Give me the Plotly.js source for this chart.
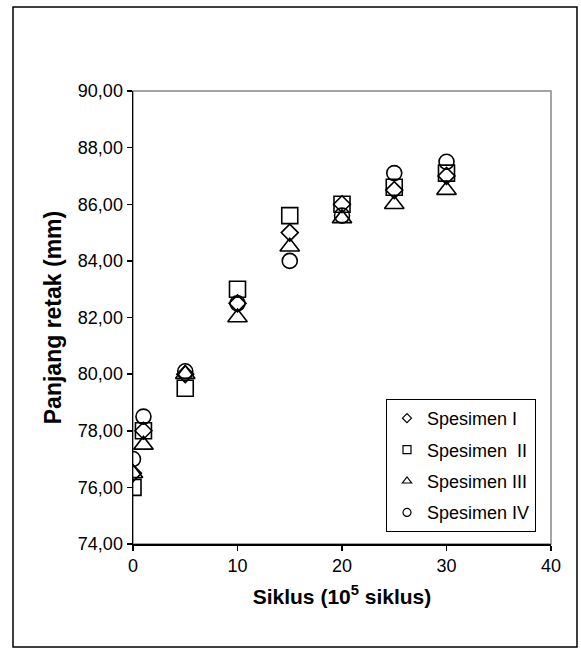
<!DOCTYPE html>
<html>
<head>
<meta charset="utf-8">
<script src="https://cdn.plot.ly/plotly-3.0.1.min.js"></script>
<style>
html,body{margin:0;padding:0;background:#fff;}
#chart{width:581px;height:659px;}
</style>
</head>
<body>
<div id="chart"></div>
<script>
// Data
const cycles = [0, 1, 5, 10, 15, 20, 25, 30];
const spesimen1 = [76.5, 78.0, 80.0, 82.5, 85.0, 86.0, 86.5, 87.0];
const spesimen2 = [76.0, 78.0, 79.5, 83.0, 85.6, 86.0, 86.6, 87.1];
const spesimen3 = [76.5, 77.5, 80.0, 82.0, 84.5, 85.5, 86.0, 86.5];
const spesimen4 = [77.0, 78.5, 80.1, 82.5, 84.0, 85.6, 87.1, 87.5];
const seriesNames = ['Spesimen I', 'Spesimen\u00a0 II', 'Spesimen III', 'Spesimen IV'];
const xTickVals = [0, 10, 20, 30, 40];
const yTickVals = [74, 76, 78, 80, 82, 84, 86, 88, 90];

const FONT = 'Arial, "Liberation Sans", sans-serif';
const symbols = ['diamond-open', 'square-open', 'triangle-up-open', 'circle-open'];
const sizes = [13, 16, 17, 15];
const allY = [spesimen1, spesimen2, spesimen3, spesimen4];

const traces = [];
allY.forEach((ys, i) => {
  traces.push({
    type: 'scatter', mode: 'markers', x: cycles, y: ys,
    name: seriesNames[i], showlegend: false,
    marker: {symbol: symbols[i], size: sizes[i], color: '#000', line: {width: 1.6, color: '#000'}},
    hoverinfo: 'x+y'
  });
});
// legend entries with small symbols as in the reference
allY.forEach((ys, i) => {
  traces.push({
    type: 'scatter', mode: 'markers', x: [null], y: [null],
    name: seriesNames[i], showlegend: true, legendgroup: 'g' + i,
    marker: {symbol: symbols[i], size: i === 0 ? 7 : 8, color: '#000', line: {width: 1.2, color: '#000'}}
  });
});

const L = 133, R = 30, T = 91, B = 115;
const W = 581, H = 659;
const pw = W - L - R, ph = H - T - B;
const px = v => (v - L) / pw;
const py = v => (H - B - v) / ph;

const layout = {
  width: W, height: H,
  margin: {l: L, r: R, t: T, b: B, pad: 0},
  paper_bgcolor: '#fff', plot_bgcolor: '#fff',
  separators: ',.',
  font: {family: FONT, color: '#000', size: 18},
  showlegend: true,
  legend: {
    x: px(386), y: py(399), xanchor: 'left', yanchor: 'top',
    bgcolor: '#fff', bordercolor: '#000', borderwidth: 1,
    font: {family: FONT, size: 18, color: '#000'},
    traceorder: 'grouped', tracegroupgap: 5,
    itemwidth: 30
  },
  xaxis: {
    range: [0, 40], tickvals: xTickVals, ticktext: xTickVals.map(String),
    showgrid: false, zeroline: false,
    showline: true, linecolor: '#000', linewidth: 1.5,
    ticks: 'outside', ticklen: 5, tickwidth: 1.5, tickcolor: '#000',
    tickfont: {family: FONT, size: 18, color: '#000'},
    title: {text: 'Siklus (10<sup>5</sup> siklus)', font: {family: FONT, size: 21, color: '#000', weight: 'bold'}, standoff: 14}
  },
  yaxis: {
    range: [74, 90], tickvals: yTickVals, tickformat: '.2f',
    showgrid: false, zeroline: false,
    showline: true, linecolor: '#000', linewidth: 1.5,
    ticks: 'outside', ticklen: 5, tickwidth: 1.5, tickcolor: '#000',
    tickfont: {family: FONT, size: 18, color: '#000'},
    title: {text: 'Panjang retak (mm)', font: {family: FONT, size: 23, color: '#000', weight: 'bold'}, standoff: 10}
  },
  shapes: [
    {type: 'rect', xref: 'paper', yref: 'paper', x0: 0, x1: 1, y0: 0, y1: 1,
     line: {color: '#888', width: 1.5}, layer: 'below'},
    {type: 'rect', xref: 'paper', yref: 'paper', x0: px(13), x1: px(577), y0: py(7), y1: py(647),
     line: {color: '#000', width: 1.5}, layer: 'below'}
  ]
};

Plotly.newPlot('chart', traces, layout, {displayModeBar: false, staticPlot: true});
</script>
</body>
</html>
